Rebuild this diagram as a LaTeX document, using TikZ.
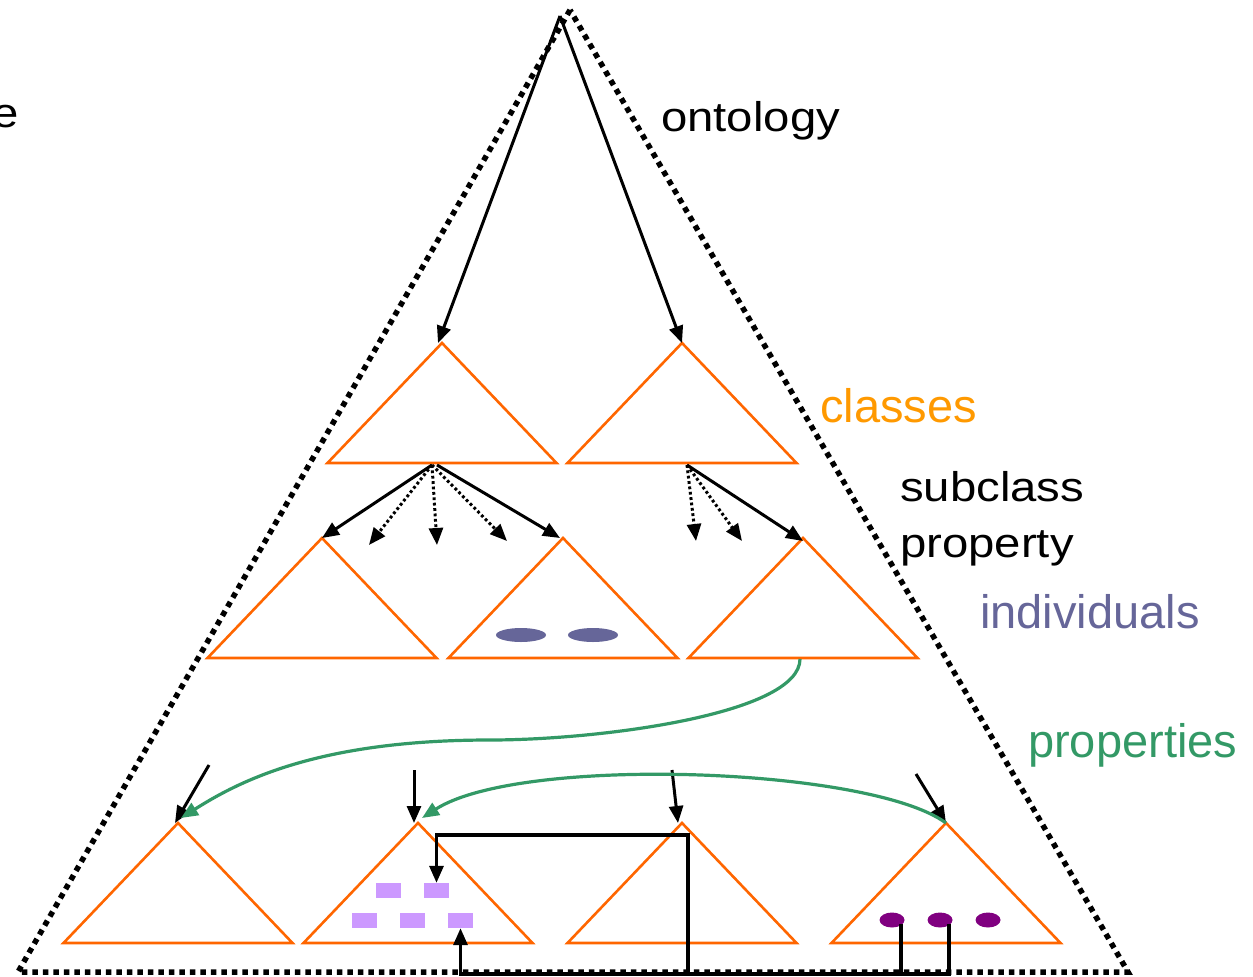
\documentclass[tikz,border=0pt]{standalone}
\usepackage{fontspec}
\setmainfont{Liberation Sans}
\usetikzlibrary{arrows.meta,shapes.geometric,calc}

\definecolor{triorange}{HTML}{FF6600}
\definecolor{classcol}{HTML}{FF9900}
\definecolor{indivcol}{HTML}{666699}
\definecolor{propcol}{HTML}{339966}
\definecolor{boxcol}{HTML}{CC99FF}
\definecolor{dotcol}{HTML}{800080}

\begin{document}
\begin{tikzpicture}[x=1pt,y=-1pt,
  tri/.style={draw=triorange,line width=2.6pt,line join=miter},
  outline/.style={line width=5.5pt,dash pattern=on 5.5pt off 5pt,line cap=butt},
  tipA/.style={-{Triangle[length=17pt,width=14pt]}},
  arr/.style={tipA,line width=3pt,black},
  darr/.style={tipA,line width=3pt,black,dash pattern=on 2.8pt off 2.6pt},
  garr/.style={-{Triangle[length=17pt,width=14pt]},line width=3.2pt,propcol},
  conn/.style={line width=3.2pt,black},
  lbl/.style={inner sep=0pt,anchor=base west,font=\fontsize{47}{56}\selectfont},
  wlbl/.style={inner sep=0pt,anchor=base west,font=\fontsize{41.5}{48}\selectfont},
  indiv/.style={ellipse,fill=indivcol,minimum width=50pt,minimum height=14pt,inner sep=0pt},
  pdot/.style={ellipse,fill=dotcol,minimum width=25pt,minimum height=15pt,inner sep=0pt},
  pbox/.style={rectangle,fill=boxcol,minimum width=25pt,minimum height=15pt,inner sep=0pt}
]
\useasboundingbox (0,0) rectangle (1253,977);

% the ontology as a whole
\coordinate (apex) at (570,10);
\coordinate (bl) at (18,972);
\coordinate (br) at (1128,972);
\draw[outline] (apex) -- (bl) -- (br) -- cycle;

% class and property triangles
\foreach \n/\x/\y in {a1/442/343, a2/682/343,
                      b1/322/538, b2/563/538, b3/803/538,
                      c1/178/823, c2/418/823, c3/682/823, c4/946/823}{
  \coordinate (\n) at (\x,\y);
  \draw[tri] (\n) -- ++(114.5,120) -- ++(-229,0) -- cycle;
}

% labels
\node[wlbl] (e) at (-8,127) {\scalebox{1.14}[1]{e}};
\node[wlbl] (ont) at (661,131) {\scalebox{1.14}[1]{ontology}};
\node[lbl,text=classcol] (cls) at (820,422) {classes};
\node[wlbl] (sub1) at (900,501) {\scalebox{1.14}[1]{subclass}};
\node[wlbl] (sub2) at (900,557) {\scalebox{1.14}[1]{property}};
\node[lbl,text=indivcol] (ind) at (980,628) {individuals};
\node[lbl,text=propcol] (prp) at (1028,757) {properties};

% individuals
\node[indiv] (i1) at (521,635) {};
\node[indiv] (i2) at (593,635) {};
\node[pdot] (p1) at (892,920) {};
\node[pdot] (p2) at (940,920) {};
\node[pdot] (p3) at (988,920) {};

% property values
\node[pbox] (r1) at (388.5,890.5) {};
\node[pbox] (r2) at (436.5,890.5) {};
\node[pbox] (r3) at (364.5,920.5) {};
\node[pbox] (r4) at (412.5,920.5) {};
\node[pbox] (r5) at (460.5,920.5) {};

% top-level subclass arrows
\coordinate (top) at (560,16);
\draw[arr] (top) -- ([xshift=-4pt]a1);
\draw[arr] (top) -- (a2);

% second level
\coordinate (s1) at (432,465);
\coordinate (s1r) at (437,465);
\coordinate (d1) at (369,545);
\coordinate (d2) at (437,545);
\coordinate (d3) at (507,541);
\draw[arr] (s1) -- (b1);
\draw[darr] (s1) -- (d1);
\draw[darr] (s1) -- (d2);
\draw[darr] (s1) -- (d3);
\draw[arr] (s1r) -- ([xshift=-3pt]b2);

\coordinate (s2) at (687,465);
\coordinate (d4) at (696,541);
\coordinate (d5) at (742,541);
\draw[darr] (s2) -- (d4);
\draw[darr] (s2) -- (d5);
\draw[arr] (s2) -- ([yshift=-3pt]b3);

% short arrows into the property triangles
\coordinate (f1) at (209,765);
\coordinate (f2) at (414,770);
\coordinate (f3) at (672,770);
\coordinate (f4) at (916,774);
\draw[arr] (f1) -- ([xshift=-3pt]c1);
\draw[arr] (f2) -- ([xshift=-4pt]c2);
\draw[arr] (f3) -- ([xshift=-4pt]c3);
\draw[arr] (f4) -- (c4);

% domain / range curves
\coordinate (gmid) at (490,740);
\draw[garr] ($(b3)+(-3,121)$) .. controls +(0,55) and +(110,0) .. (gmid)
   .. controls +(-170,0) and +(60,-38) .. ($(c1)+(3,-5)$);
\draw[garr] (c4) .. controls +(-76,-56) and +(98,-63) .. ($(c2)+(4,-5)$);

% value links
\coordinate (bus) at (0,974);
\coordinate (hub) at (688,974);
\coordinate (loop) at (0,835);
\coordinate (p1s) at ($(p1.center)+(9,4)$);
\coordinate (p2s) at ($(p2.center)+(9,4)$);
\draw[conn] (p1s) -- (p1s |- bus);
\draw[conn,tipA] (p2s) |- (r5.south |- bus) -- (r5.south);
\draw[conn,tipA] (hub) -- (hub |- loop) -| (r2.north);
\end{tikzpicture}
\end{document}
